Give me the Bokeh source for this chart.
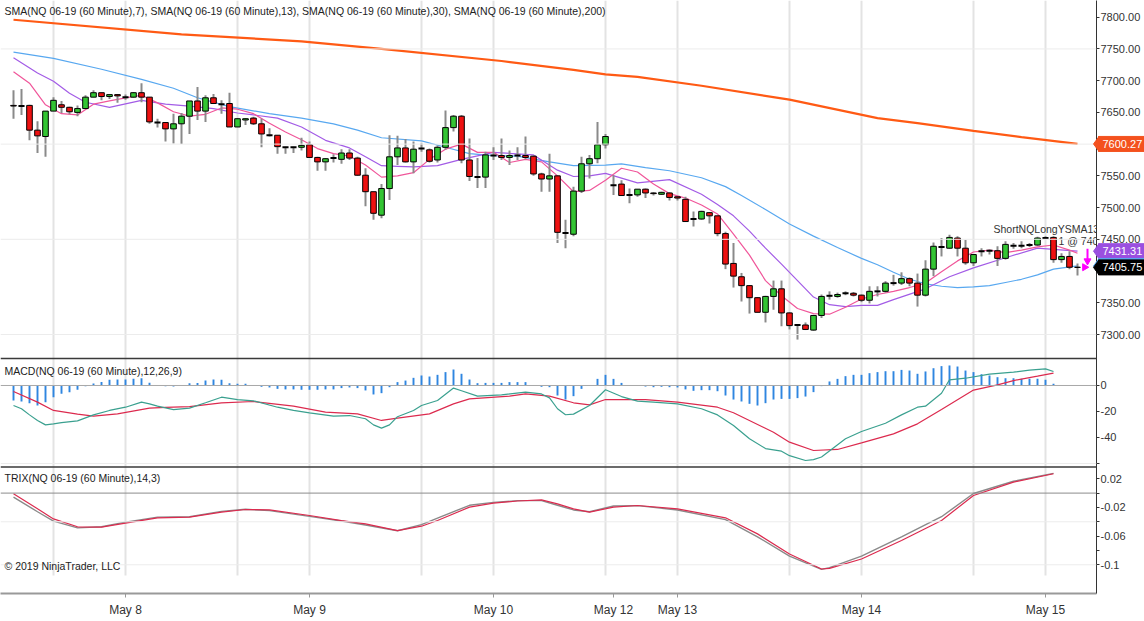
from bokeh.plotting import figure
from bokeh.layouts import row
from bokeh.models import Range1d, FixedTicker, Span, Label
from bokeh.embed import file_html
from bokeh.resources import INLINE
from bokeh.core.properties import value

# ---------------- data ----------------
opens = [7661,7660,7661,7622,7612,7652,7662,7658,7650,7656,
         7674,7681,7675,7678,7674,7674,7681,7674,7634,7634,
         7624,7632,7644,7668,7652,7673,7663,7664,7627,7638,
         7641,7632,7614,7614,7595,7595,7595,7599,7579,7572,
         7578,7576,7586,7578,7551,7525,7488,7530,7580,7594,
         7572,7593,7591,7575,7595,7626,7644,7575,7548,7548,
         7582,7582,7579,7582,7582,7581,7553,7545,7550,7460,
         7458,7526,7569,7577,7599,7535,7537,7520,7520,7529,
         7523,7521,7523,7517,7513,7482,7482,7492,7487,7459,
         7412,7391,7377,7358,7335,7360,7372,7334,7315,7315,
         7307,7330,7361,7360,7365,7365,7362,7354,7368,7368,
         7381,7381,7388,7381,7362,7403,7438,7436,7452,7436,
         7413,7431,7432,7432,7420,7440,7440,7441,7441,7452,
         7453,7418,7423,7406]
highs = [7685,7687,7662,7636,7652,7674,7668,7659,7661,7677,
         7685,7681,7678,7679,7678,7682,7696,7674,7640,7634,
         7648,7649,7668,7690,7677,7679,7669,7681,7641,7641,
         7643,7640,7625,7614,7596,7596,7610,7604,7580,7578,
         7584,7592,7592,7580,7562,7525,7537,7614,7613,7608,
         7604,7601,7593,7598,7653,7646,7646,7609,7578,7588,
         7595,7609,7590,7595,7612,7582,7555,7585,7550,7481,
         7533,7580,7583,7635,7616,7551,7543,7530,7529,7530,
         7524,7525,7524,7518,7517,7494,7495,7493,7487,7462,
         7444,7397,7378,7359,7361,7385,7385,7335,7316,7319,
         7331,7363,7368,7366,7368,7367,7363,7376,7376,7384,
         7394,7398,7390,7396,7417,7445,7452,7457,7455,7449,
         7427,7436,7434,7439,7447,7444,7447,7444,7454,7455,
         7455,7428,7431,7412]
lows = [7640,7646,7606,7586,7580,7652,7649,7647,7644,7656,
        7674,7669,7671,7665,7670,7673,7666,7632,7626,7604,
        7601,7600,7616,7638,7635,7664,7648,7627,7627,7630,
        7630,7595,7612,7585,7585,7586,7590,7578,7558,7558,
        7571,7569,7575,7550,7502,7481,7483,7512,7567,7571,
        7554,7588,7571,7571,7591,7620,7570,7542,7531,7531,
        7575,7575,7567,7575,7576,7550,7525,7525,7444,7436,
        7455,7523,7546,7570,7593,7520,7519,7507,7517,7515,
        7519,7520,7511,7511,7478,7470,7481,7475,7455,7403,
        7374,7352,7333,7335,7319,7339,7313,7308,7292,7307,
        7306,7326,7355,7358,7362,7360,7351,7349,7360,7366,
        7377,7378,7376,7344,7360,7392,7423,7435,7423,7410,
        7408,7423,7426,7408,7418,7435,7436,7438,7440,7450,
        7413,7413,7403,7393]
closes = [7660,7660,7622,7613,7652,7669,7658,7651,7656,7674,
          7681,7675,7678,7676,7674,7681,7674,7635,7634,7624,
          7632,7644,7668,7652,7673,7664,7663,7627,7640,7640,
          7632,7616,7614,7596,7595,7595,7598,7579,7572,7577,
          7578,7586,7578,7551,7525,7491,7530,7580,7594,7572,
          7592,7593,7573,7595,7626,7644,7575,7549,7548,7583,
          7582,7579,7582,7582,7579,7553,7545,7550,7461,7460,
          7526,7569,7577,7599,7612,7535,7519,7520,7529,7523,
          7522,7524,7516,7515,7478,7482,7494,7487,7459,7411,
          7392,7377,7358,7335,7360,7372,7334,7314,7315,7308,
          7330,7360,7361,7363,7365,7362,7354,7368,7368,7381,
          7381,7388,7381,7362,7403,7439,7438,7453,7436,7413,
          7426,7431,7432,7420,7442,7440,7440,7441,7452,7452,
          7418,7423,7406,7405.75]

sma7_idx = list(range(0, 133, 2)) + [133]
sma7_val = [7714,7696,7662,7648,7646,7663,7668,7673,7677,7665,
            7651,7644,7647,7657,7655,7648,7633,7619,7607,7593,
            7585,7581,7567,7548,7550,7555,7576,7592,7600,7587,
            7587,7571,7576,7572,7550,7525,7527,7543,7562,7556,
            7537,7522,7515,7504,7490,7458,7425,7385,7361,7341,
            7333,7332,7343,7356,7363,7368,7374,7381,7399,7416,
            7430,7433,7429,7433,7438,7441,7433,7428]

sma13_idx = [0,3,5,7,9,12,16,19,22,25,28,30,33,36,39,42,44,46,48,50,
             53,56,60,65,68,70,72,74,78,82,86,88,90,92,94,96,98,100,102,104,
             106,108,110,114,117,120,124,128,130,133]
sma13_val = [7736,7712,7699,7680,7666,7658,7669,7663,7660,7656,
             7649,7646,7641,7627,7606,7594,7580,7566,7565,7564,
             7566,7576,7587,7583,7559,7549,7550,7554,7539,7544,
             7521,7505,7487,7463,7436,7411,7385,7359,7347,7344,
             7346,7346,7355,7372,7391,7405,7421,7436,7434,7431.31]

sma30_idx = [0,5,11,16,20,23,27,32,36,40,43,46,51,54,57,60,63,67,70,74,
             76,79,82,86,89,91,94,97,100,103,106,108,110,112,114,116,118,120,122,124,
             126,128,130,133]
sma30_val = [7745,7735,7718,7702,7688,7673,7659,7648,7641,7632,
             7622,7610,7605,7595,7585,7582,7581,7572,7566,7567,
             7569,7563,7558,7547,7533,7519,7497,7474,7455,7437,
             7420,7410,7398,7387,7380,7376,7374,7375,7377,7382,
             7387,7394,7403,7408]

sma200_idx = [0,21,36,46,61,70,74,78,86,97,108,113,120,126,133]
sma200_val = [7796,7773,7762,7750,7731,7717,7710,7706,7692,7670,7641,7633,7621,7611,7600.27]

macd_hist = [-11.5,-12.3,-13.6,-15.4,-12.8,-9.0,-6.4,-5.1,-3.3,-0.5,
             1.5,2.6,4.4,4.6,4.6,5.1,5.6,2.1,0.3,-0.5,
             -0.8,0.0,1.8,2.0,3.8,4.6,4.4,1.8,1.3,1.3,
             0.3,-1.0,-1.5,-2.6,-3.0,-3.0,-3.3,-3.3,-3.3,-3.0,
             -3.0,-2.0,-1.5,-2.0,-3.8,-6.9,-5.9,-1.3,2.6,3.8,
             5.9,7.7,6.9,8.2,10.3,12.3,9.0,4.6,1.8,2.0,
             2.0,2.0,2.6,2.6,2.6,0.3,-1.0,-1.3,-7.7,-10.8,
             -8.2,-2.6,0.3,5.1,8.2,5.1,2.0,0.3,0.2,-0.8,
             -1.3,-1.0,-1.3,-1.5,-3.0,-4.1,-3.6,-3.6,-4.4,-7.7,
             -10.8,-12.3,-14.1,-15.4,-13.6,-10.8,-10.3,-10.3,-9.7,-8.5,
             -5.1,-0.5,3.1,5.1,7.2,8.2,8.2,9.5,10.3,11.0,
             11.0,12.0,11.5,9.0,10.8,13.3,14.9,15.4,14.6,11.5,
             10.3,8.7,7.7,6.4,5.6,5.6,5.1,5.1,5.1,4.4,
             1.3]

macd_idx = [0,1,2,3,4,5,6,8,10,12,14,16,17,18,20,22,24,26,28,30,33,35,37,40,42,44,
            45,46,47,48,50,51,53,55,56,58,61,64,66,67,68,69,70,72,74,76,78,80,83,86,
            88,90,92,94,96,97,99,100,101,104,106,109,111,113,114,116,117,119,122,125,
            127,129,130]
macd_val = [-15.4,-17.9,-22.6,-26.9,-30.3,-29.5,-28.5,-27.2,-22.6,-19.2,-16.7,-12.8,-14.1,
            -15.9,-18.5,-17.4,-13.3,-9.0,-10.8,-11.8,-16.7,-19.2,-21.0,-23.6,-23.1,-25.6,
            -30.3,-32.8,-30.3,-24.0,-19.2,-15.4,-11.5,-2.0,-4.0,-8.2,-7.2,-5.1,-6.5,-9.5,
            -17.9,-22.5,-22.0,-15.4,-3.3,-8.5,-12.0,-12.8,-14.1,-17.9,-22.6,-30.8,-41.0,
            -48.5,-50.5,-54.0,-57.7,-57.0,-55.0,-41.0,-35.4,-29.0,-22.6,-16.7,-15.9,-6.0,
            4.4,5.6,8.7,10.3,11.8,12.8,10.8]

signal_idx = [0,3,5,8,10,13,17,19,22,26,30,35,39,43,46,48,52,55,57,62,64,67,70,72,74,
              79,83,88,90,95,97,100,103,106,110,113,116,118,120,123,125,128,130]
signal_val = [-4.6,-12.8,-19.2,-22.0,-23.6,-21.8,-17.4,-16.9,-16.2,-13.3,-12.3,-15.9,-20.5,
              -21.8,-26.9,-25.1,-21.8,-14.1,-10.3,-8.2,-6.4,-8.2,-13.3,-14.9,-10.8,-10.8,
              -12.8,-16.7,-21.0,-35.9,-43.6,-50.0,-49.2,-44.1,-37.2,-29.5,-18.5,-11.0,-3.5,
              0.5,3.8,7.2,9.5]

trix_idx = [0,3,5,8,11,14,18,22,26,29,32,37,41,44,48,51,53,57,60,63,
            66,68,70,72,75,78,83,89,93,97,101,102,106,111,116,120,125,130]
trix_val = [-0.0056,-0.026,-0.039,-0.0485,-0.047,-0.0405,-0.0335,-0.033,-0.0255,-0.0225,
            -0.0245,-0.0325,-0.039,-0.0445,-0.0525,-0.044,-0.035,-0.017,-0.013,-0.0105,
            -0.0105,-0.017,-0.0235,-0.026,-0.018,-0.0175,-0.0235,-0.037,-0.061,-0.088,
            -0.1065,-0.104,-0.088,-0.061,-0.033,-0.0005,0.0165,0.0275]
trix_sig = [-0.001,-0.022,-0.036,-0.047,-0.0476,-0.042,-0.0345,-0.0336,-0.0266,-0.0229,
            -0.0234,-0.0313,-0.0383,-0.043,-0.0523,-0.0462,-0.0383,-0.0196,-0.014,-0.011,
            -0.0094,-0.015,-0.022,-0.0266,-0.0196,-0.0173,-0.022,-0.0345,-0.0569,-0.0849,
            -0.1059,-0.105,-0.0919,-0.0662,-0.0383,-0.0033,0.0153,0.027]

date_ticks = [14, 37, 60, 75, 83, 106, 129]
date_labels = ["May 8", "May 9", "May 10", "May 12", "May 13", "May 14", "May 15"]
session_lines = [5, 14, 28, 37, 51, 60, 74, 83, 97, 106, 120, 129]

price_ticks = [7300, 7350, 7400, 7450, 7500, 7550, 7600, 7650, 7700, 7750, 7800]
price_grid = [7750, 7600, 7450, 7300]
macd_ticks = [0, -20, -40, -60]
macd_tick_labels = ["0", "-20", "-40", ""]
trix_ticks = [0.02, 0.0, -0.02, -0.04, -0.06, -0.08, -0.1]
trix_tick_labels = ["0.02", "", "-0.02", "", "-0.06", "", "-0.1"]

box_texts = ["7600.27", "7431.31", "7408.00", "7405.75"]
box_values = [7600.27, 7431.31, 7408.0, 7405.75]
box_colors = ["#F4511E", "#9A4FE0", "#58A8F0", "#000000"]

titles = ["SMA(NQ 06-19 (60 Minute),7), SMA(NQ 06-19 (60 Minute),13), SMA(NQ 06-19 (60 Minute),30), SMA(NQ 06-19 (60 Minute),200)",
          "MACD(NQ 06-19 (60 Minute),12,26,9)",
          "TRIX(NQ 06-19 (60 Minute),14,3)",
          "\u00a9 2019 NinjaTrader, LLC"]

# ---------------- layout helpers ----------------
W, H = 1144, 621
FW, FH = 1096, 593
X0 = -1.625
X1 = X0 + FW / 8.0
PB, PT = 6891.9, 7826.3
MB, MT = -160.0, 296.15
TB, TT = -0.14009, 0.68732
UPP = (PT - PB) / FH          # price units per pixel
FONT = "Liberation Sans"
TFS = "10.5px"


def ypx(y):
    return PT - y * UPP


def to_p(v, lo, hi):
    return round(PB + (v - lo) / (hi - lo) * (PT - PB), 6)


y_range = Range1d(PB, PT)
p = figure(width=W, height=H, x_range=Range1d(X0, X1),
           y_range=y_range, y_axis_location="right",
           toolbar_location=None, output_backend="svg",
           min_border_left=0, min_border_top=0, min_border_right=W - FW,
           min_border_bottom=H - FH, outline_line_color=None,
           background_fill_color="white", border_fill_color="white")
p.extra_y_ranges = {"macd": Range1d(MB, MT), "trix": Range1d(TB, TT)}
p.xgrid.visible = False
p.ygrid.visible = False

# grid lines
for g in price_grid:
    p.add_layout(Span(location=g, dimension="width", line_color="#ececec", line_width=1))
p.add_layout(Span(location=-60, dimension="width", y_range_name="macd", line_color="#ececec", line_width=1))
for g in [-0.04, -0.1]:
    p.add_layout(Span(location=g, dimension="width", y_range_name="trix", line_color="#ececec", line_width=1))
p.segment(x0=session_lines, x1=session_lines, y0=[ypx(575)] * len(session_lines),
          y1=[PT] * len(session_lines), line_color="#e3e3e3", line_width=2)
p.add_layout(Span(location=0, dimension="width", y_range_name="macd", line_color="#a8a8a8", line_width=1))
p.add_layout(Span(location=0, dimension="width", y_range_name="trix", line_color="#8c8c8c", line_width=1))
p.add_layout(Span(location=ypx(358), dimension="width", line_color="#3a3a3a", line_width=1.5))
p.add_layout(Span(location=ypx(466.5), dimension="width", line_color="#3a3a3a", line_width=1.5))

# SMA lines
p.line(sma30_idx, sma30_val, line_color="#58A8F0", line_width=1.2)
p.line(sma13_idx, sma13_val, line_color="#A35CE6", line_width=1.2)
p.line(sma7_idx, sma7_val, line_color="#F0569A", line_width=1.2)
p.line(sma200_idx, sma200_val, line_color="#FF5A14", line_width=2.2)

# candles
idx = list(range(len(opens)))
p.segment(x0=idx, x1=idx, y0=lows, y1=highs, line_color="#8a8a8a", line_width=2)
up = [i for i in idx if closes[i] > opens[i]]
dn = [i for i in idx if closes[i] < opens[i]]
dj = [i for i in idx if closes[i] == opens[i]]
p.vbar(x=up, top=[closes[i] for i in up], bottom=[opens[i] for i in up], width=0.7,
       fill_color="#33C533", line_color="black", line_width=1)
p.vbar(x=dn, top=[opens[i] for i in dn], bottom=[closes[i] for i in dn], width=0.7,
       fill_color="#EE1111", line_color="black", line_width=1)
p.segment(x0=[i - 0.38 for i in dj], x1=[i + 0.38 for i in dj], y0=[opens[i] for i in dj],
          y1=[opens[i] for i in dj], line_color="black", line_width=2)

# trade marker
p.segment(x0=[134.25], x1=[134.25], y0=[7435], y1=[7418], line_color="#FF00FF", line_width=2)
p.scatter(x=[134.25], y=[7416], marker="inverted_triangle", size=7, fill_color="#FF00FF", line_color="#FF00FF")
p.scatter(x=[133.9], y=[7406], marker="triangle", angle=-1.5708, size=7, fill_color="#FF00FF", line_color="#FF00FF")
p.text(x=[X0 + 993 / 8.0], y=[ypx(228)], text=["ShortNQLongYSMA13"], text_font=value(FONT),
       text_font_size=TFS, text_color="#333333", text_baseline="middle")
p.text(x=[X0 + 1058 / 8.0], y=[ypx(240)], text=["1 @ 7405.75"], text_font=value(FONT),
       text_font_size=TFS, text_color="#333333", text_baseline="middle")

# MACD panel
hx = list(range(len(macd_hist)))
p.vbar(x=hx, top=[max(h, 0) for h in macd_hist], bottom=[min(h, 0) for h in macd_hist],
       width=0.24, fill_color="#2F86E0", line_color=None, y_range_name="macd")
p.line(signal_idx, signal_val, line_color="#DC2A4E", line_width=1.2, y_range_name="macd")
p.line(macd_idx, macd_val, line_color="#3AA08F", line_width=1.2, y_range_name="macd")

# TRIX panel
p.line(trix_idx, trix_val, line_color="#8a8a8a", line_width=1.4, y_range_name="trix")
p.line(trix_idx, trix_sig, line_color="#DC2A4E", line_width=1.2, y_range_name="trix")

# axes
ticks, overrides = [], {}
for t in price_ticks:
    ticks.append(float(t)); overrides[float(t)] = "%.2f" % t
for t, lab in zip(macd_ticks, macd_tick_labels):
    v = to_p(t, MB, MT); ticks.append(v); overrides[v] = lab
for t, lab in zip(trix_ticks, trix_tick_labels):
    v = to_p(t, TB, TT); ticks.append(v); overrides[v] = lab
ya = p.yaxis[0]
ya.ticker = FixedTicker(ticks=ticks)
ya.major_label_overrides = overrides
ya.minor_tick_line_color = None
ya.major_tick_in = 0
ya.major_tick_out = 3
ya.major_label_standoff = 1
ya.axis_line_color = "#333333"
ya.major_tick_line_color = "#333333"
ya.major_label_text_font = FONT
ya.major_label_text_font_size = "11px"
ya.major_label_text_color = "#333333"

xa = p.xaxis[0]
xa.ticker = FixedTicker(ticks=date_ticks)
xa.major_label_overrides = {t: lab for t, lab in zip(date_ticks, date_labels)}
xa.minor_tick_line_color = None
xa.major_tick_in = 0
xa.major_tick_out = 4
xa.axis_line_color = "#999999"
xa.axis_line_width = 2
xa.major_tick_line_color = "#999999"
xa.major_label_standoff = 5
xa.major_label_text_font = FONT
xa.major_label_text_font_size = "12px"
xa.major_label_text_color = "#333333"

# titles
for txt, y in zip(titles, [10, 370, 477, 565]):
    p.add_layout(Label(x=X0 + 4 / 8.0, y=ypx(y), text=txt, text_baseline="middle",
                       text_font=FONT, text_font_size=TFS, text_color="#222222"))

# ---------------- overlay strip over the price axis (last-value boxes) ----------------
SW = 56   # strip covers the right-most 56 px of the chart
q = figure(width=SW, height=H, x_range=Range1d(0, SW), y_range=y_range,
           toolbar_location=None, output_backend="svg", x_axis_type=None, y_axis_type=None,
           min_border_left=0, min_border_right=0, min_border_top=0, min_border_bottom=H - FH,
           outline_line_color=None, background_fill_alpha=0, border_fill_alpha=0,
           margin=(0, 0, 0, -SW))
q.xgrid.visible = False
q.ygrid.visible = False
HB = 7.5 * UPP
for txt, v, c in zip(box_texts, box_values, box_colors):
    q.quad(left=[10], right=[SW], bottom=[v - HB], top=[v + HB], fill_color=c, line_color=c)
    q.patch(x=[5, 10.5, 10.5], y=[v, v + HB, v - HB], fill_color=c, line_color=c)
    q.text(x=[14], y=[v], text=[txt], text_font=value(FONT), text_font_size="11px",
           text_color="white", text_baseline="middle")

layout = row(p, q, spacing=0)
open("out.html", "w").write(file_html(layout, INLINE))
